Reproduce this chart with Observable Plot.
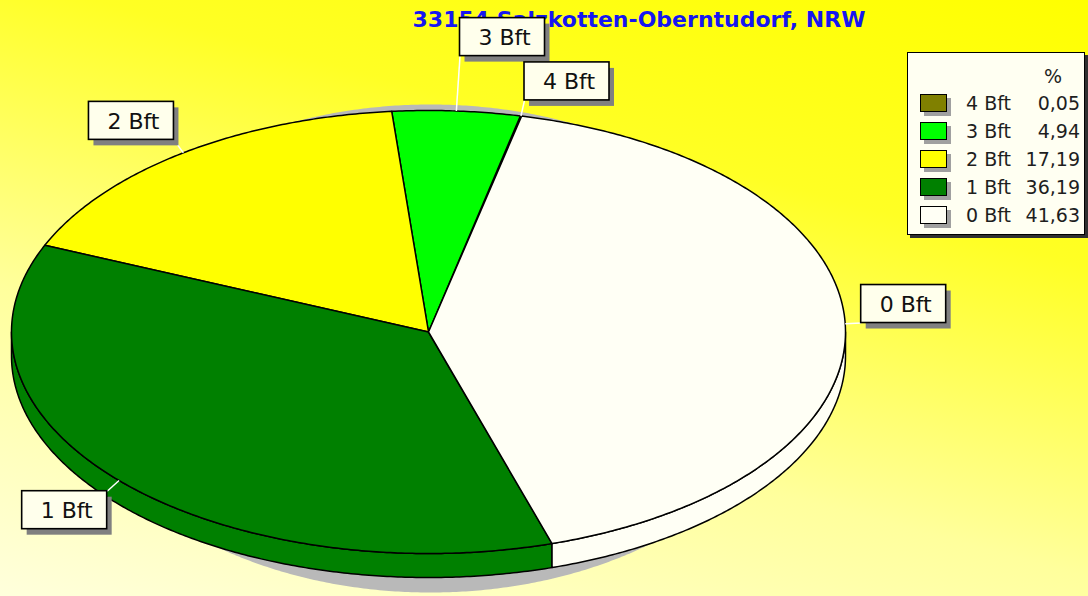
<!DOCTYPE html>
<html>
<head>
<meta charset="utf-8">
<script src="https://cdn.jsdelivr.net/npm/d3@7"></script>
<script src="https://cdn.jsdelivr.net/npm/@observablehq/plot@0.6"></script>
<style>
html, body { margin: 0; padding: 0; }
#chart {
  position: relative; width: 1088px; height: 596px; overflow: hidden;
  background: linear-gradient(195deg, #ffff00 0%, #ffff24 30%, #ffff9c 65%, #ffffdc 100%);
  font-family: "DejaVu Sans", sans-serif;
}
#title {
  position: absolute; left: 389px; top: 7px; width: 500px; text-align: center;
  font: bold 22px/26px "DejaVu Sans", sans-serif; color: #1616f0; white-space: nowrap; z-index: 0;
}
#plot { position: absolute; left: 0; top: 0; z-index: 1; }
#legend {
  position: absolute; left: 907px; top: 52px; width: 178px; height: 183px; box-sizing: border-box;
  border: 1.5px solid #000; background: #fffff2; box-shadow: 3px 3px 0 #303030; z-index: 2;
  color: #1e1e1e; font-size: 19px;
}
#legend .hdr { position: absolute; left: 120px; width: 50px; top: 11px; text-align: center; line-height: 24px; }
#legend .sw-sh { position: absolute; left: 16px; width: 27px; height: 18px; background: #a0a0a0; }
#legend .sw { position: absolute; left: 12px; width: 27px; height: 18px; box-sizing: border-box; border: 1.5px solid #000; }
#legend .nm { position: absolute; left: 58px; line-height: 24px; }
#legend .vl { position: absolute; right: 4px; line-height: 24px; text-align: right; }
</style>
</head>
<body>
<div id="chart">
  <div id="title"></div>
  <div id="plot"></div>
  <div id="legend"></div>
</div>
<script>
// ---- data ----
const categories = ["4 Bft", "3 Bft", "2 Bft", "1 Bft", "0 Bft"];
const percents = [0.05, 4.94, 17.19, 36.19, 41.63];
const percentLabels = ["0,05", "4,94", "17,19", "36,19", "41,63"];
const sliceColors = ["#808000", "#00ff00", "#ffff00", "#008000", "#fffff5"];
const titleText = "33154 Salzkotten-Oberntudorf, NRW";
const valueHeader = "%";

// ---- layout ----
const W = 1088, H = 596;
const CX = 428, CY = 331.5, RX = 417, RY = 221.5, DEPTH = 24;
const START = 12.9 * Math.PI / 180;   // slices run counter-clockwise from here
const SHADOW = {cx: 430, cy: 348, rx: 367, ry: 244};
const BOX_W = 85, BOX_H = 38, GAP = 16, SH = 6;

const total = d3.sum(percents);
let cum = 0;
const slices = categories.map((name, i) => {
  const a = START - cum / total * 2 * Math.PI;
  cum += percents[i];
  const b = START - cum / total * 2 * Math.PI;
  return {name, t0: b, t1: a, color: sliceColors[i]};
});

const STEP = Math.PI / 360;
function arc(t0, t1) {
  const n = Math.max(2, Math.ceil((t1 - t0) / STEP) + 1);
  return d3.range(n).map(k => t0 + (t1 - t0) * k / (n - 1));
}

// top faces
const topPts = [];
slices.forEach(s => {
  const pts = [[0, 0], ...arc(s.t0, s.t1).map(t => [Math.sin(t), Math.cos(t)]), [0, 0]];
  pts.forEach(([x, y]) => topPts.push({id: s.name, x, y, color: s.color}));
});

// side walls (front half only)
const dU = DEPTH / RY;
const sidePts = [];
slices.forEach(s => {
  for (let k = -2; k <= 2; k++) {
    const lo = Math.max(s.t0, Math.PI / 2 + 2 * Math.PI * k);
    const hi = Math.min(s.t1, 3 * Math.PI / 2 + 2 * Math.PI * k);
    if (hi > lo) {
      const ts = arc(lo, hi);
      const poly = [...ts.map(t => [Math.sin(t), Math.cos(t)]),
                    ...ts.slice().reverse().map(t => [Math.sin(t), Math.cos(t) - dU])];
      poly.push(poly[0]);
      poly.forEach(([x, y]) => sidePts.push({id: s.name + k, x, y, color: s.color}));
    }
  }
});

// shadow ellipse
const shadowPts = arc(0, 2 * Math.PI).map(t => ({
  x: (SHADOW.cx + SHADOW.rx * Math.sin(t) - CX) / RX,
  y: (CY - (SHADOW.cy - SHADOW.ry * Math.cos(t))) / RY
}));

// labels
const ux = px => (px - CX) / RX;
const uy = py => (CY - py) / RY;
const placed = [];
const labels = slices.map(s => {
  const tm = (s.t0 + s.t1) / 2;
  const ax = CX + RX * Math.sin(tm), ay = CY - RY * Math.cos(tm);
  const dx = Math.sin(tm), dy = -Math.cos(tm), L = Math.hypot(dx, dy);
  const make = d => {
    const px = ax + dx / L * d, py = ay + dy / L * d;
    return {px, py, left: dx >= 0 ? px : px - BOX_W, top: dy <= 0 ? py - BOX_H : py};
  };
  const hit = b => placed.some(p => b.left < p.left + BOX_W + SH && b.left + BOX_W + SH > p.left &&
                                     b.top < p.top + BOX_H + SH && b.top + BOX_H + SH > p.top);
  let dist = GAP, box = make(dist);
  while (hit(box) && dist < 300) { dist += 1; box = make(dist); }
  placed.push(box);
  return {
    name: s.name,
    ax: ux(ax), ay: uy(ay), px: ux(box.px), py: uy(box.py),
    x1: ux(box.left), x2: ux(box.left + BOX_W), y1: uy(box.top), y2: uy(box.top + BOX_H),
    sx1: ux(box.left + 5), sx2: ux(box.left + BOX_W + 5), sy1: uy(box.top + 6), sy2: uy(box.top + BOX_H + 6),
    tx: ux(box.left + BOX_W / 2 + 2), ty: uy(box.top + BOX_H / 2 + 1)
  };
});

const plot = Plot.plot({
  width: W, height: H, margin: 0,
  x: {domain: [-1, 1], range: [CX - RX, CX + RX], axis: null},
  y: {domain: [-1, 1], range: [CY + RY, CY - RY], axis: null},
  color: {type: "identity"},
  style: {background: "transparent", overflow: "visible"},
  marks: [
    Plot.line(shadowPts, {x: "x", y: "y", fill: "#b9b9b9", stroke: "none"}),
    Plot.line(sidePts, {x: "x", y: "y", z: "id", fill: "color", stroke: "#000", strokeWidth: 1.5, strokeLinejoin: "round"}),
    Plot.line(topPts, {x: "x", y: "y", z: "id", fill: "color", stroke: "#000", strokeWidth: 1.5, strokeLinejoin: "round"}),
    Plot.link(labels, {x1: "ax", y1: "ay", x2: "px", y2: "py", stroke: "#ffffff", strokeWidth: 1.5}),
    Plot.rect(labels, {x1: "sx1", x2: "sx2", y1: "sy1", y2: "sy2", fill: "#808080"}),
    Plot.rect(labels, {x1: "x1", x2: "x2", y1: "y1", y2: "y2", fill: "#ffffec", stroke: "#000", strokeWidth: 1.6}),
    Plot.text(labels, {x: "tx", y: "ty", text: "name", fontSize: 22, fontFamily: "DejaVu Sans", fill: "#111"})
  ]
});
document.getElementById("plot").appendChild(plot);
document.getElementById("title").textContent = titleText;

// legend
const legend = document.getElementById("legend");
let html = `<div class="hdr">${valueHeader}</div>`;
categories.forEach((c, i) => {
  const top = 41 + i * 28;
  html += `<div class="sw-sh" style="top:${top + 4}px"></div>`;
  html += `<div class="sw" style="top:${top}px;background:${sliceColors[i]}"></div>`;
  html += `<div class="nm" style="top:${top - 3}px">${c}</div>`;
  html += `<div class="vl" style="top:${top - 3}px">${percentLabels[i]}</div>`;
});
legend.innerHTML = html;
</script>
</body>
</html>
